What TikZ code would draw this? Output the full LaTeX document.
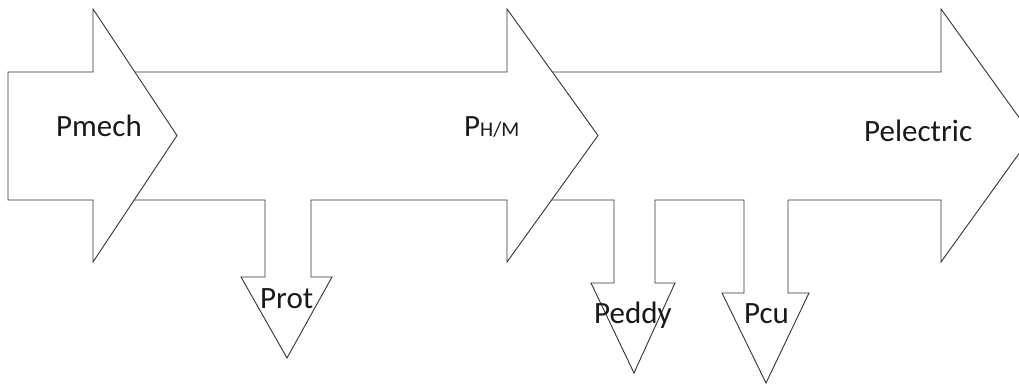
\documentclass[tikz,border=0pt]{standalone}
\usepackage{fontspec}
\setmainfont{Carlito}
\begin{document}
\begin{tikzpicture}[x=1pt,y=-1pt,
  blk/.style={draw=black!80, line width=0.9pt, fill=white, line join=miter},
  lbl/.style={font=\fontsize{31}{36}\selectfont, inner sep=0pt, anchor=base west, text=black!90}]
\useasboundingbox (0,0) rectangle (1019,387);
\clip (0,0) rectangle (1019,387);
% third arrow (Pelectric) with the Peddy and Pcu branches
\draw[blk] (530,72) -- (941,72) -- (941,9) -- (1032,135.5) -- (941,262) -- (941,200)
  -- (788,200) -- (788,293) -- (809,293) -- (766,383) -- (722,293) -- (744,293) -- (744,200)
  -- (655,200) -- (655,283) -- (675,283) -- (634,373) -- (591,283) -- (614,283) -- (614,200)
  -- (530,200) -- cycle;
% second arrow (P_H/M) with the Prot branch
\draw[blk] (110,72) -- (507,72) -- (507,9) -- (598,135.5) -- (507,262) -- (507,200)
  -- (311,200) -- (311,277) -- (332,277) -- (287,358) -- (241,277) -- (265,277) -- (265,200)
  -- (110,200) -- cycle;
% first arrow (Pmech)
\draw[blk] (8,72) -- (93,72) -- (93,9) -- (177,135.5) -- (93,262) -- (93,200) -- (8,200) -- cycle;
% labels
\node[lbl] (pmech) at (56,137) {Pmech};
\node[lbl] (phm) at (464,137) {P{\fontsize{21}{24}\selectfont H/M}};
\node[lbl] (pelec) at (864,142) {Pelectric};
\node[lbl] (prot) at (260,308) {Prot};
\node[lbl] (peddy) at (594,323) {Peddy};
\node[lbl] (pcu) at (744,323) {Pcu};
\end{tikzpicture}
\end{document}
